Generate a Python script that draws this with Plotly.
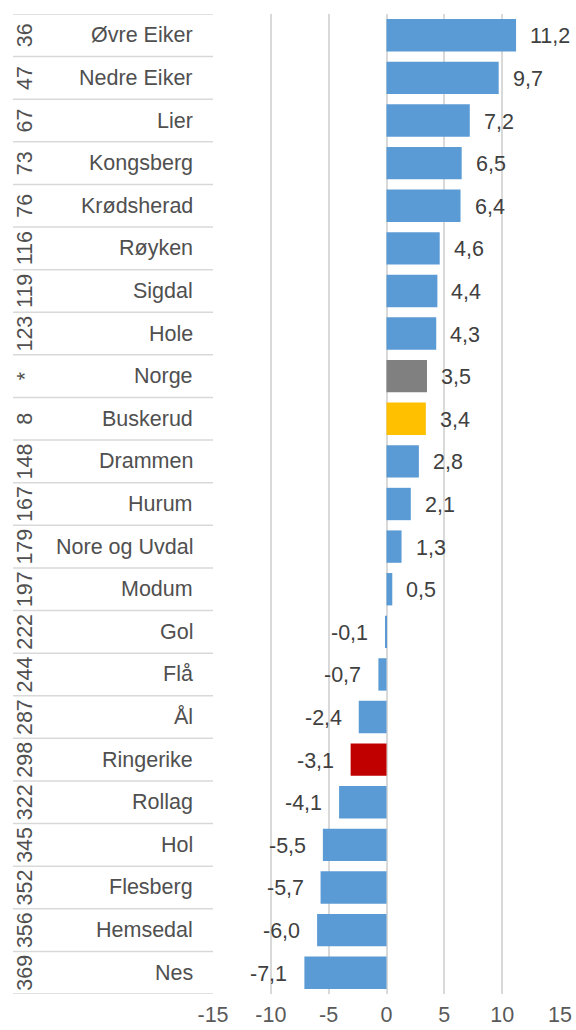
import plotly.graph_objects as go

names = ["Øvre Eiker", "Nedre Eiker", "Lier", "Kongsberg", "Krødsherad", "Røyken",
         "Sigdal", "Hole", "Norge", "Buskerud", "Drammen", "Hurum", "Nore og Uvdal",
         "Modum", "Gol", "Flå", "Ål", "Ringerike", "Rollag", "Hol", "Flesberg",
         "Hemsedal", "Nes"]
ranks = ["36", "47", "67", "73", "76", "116", "119", "123", "*", "8", "148", "167",
         "179", "197", "222", "244", "287", "298", "322", "345", "352", "356", "369"]
values = [11.2, 9.7, 7.2, 6.5, 6.4, 4.6, 4.4, 4.3, 3.5, 3.4, 2.8, 2.1, 1.3, 0.5,
          -0.1, -0.7, -2.4, -3.1, -4.1, -5.5, -5.7, -6.0, -7.1]
tick_vals = [-15, -10, -5, 0, 5, 10, 15]

BLUE = "#5B9BD5"
highlight = {"Norge": "#808080", "Buskerud": "#FFC000", "Ringerike": "#C00000"}
colors = [highlight.get(n, BLUE) for n in names]

FONT = "Liberation Sans, Arial, sans-serif"
FS = 21.5
TXT = "#404040"
NAMECOL = "#505050"
GRID = "#D9D9D9"

fig = go.Figure(go.Bar(
    x=values, y=names, orientation="h",
    marker=dict(color=colors, line=dict(width=0)),
    hoverinfo="skip",
))

annotations = []
for n, v in zip(names, values):
    lab = f"{v:.1f}".replace(".", ",")
    annotations.append(dict(
        x=v, y=n, xref="x", yref="y", text=lab, showarrow=False,
        xanchor="left" if v >= 0 else "right",
        xshift=12 if v >= 0 else -15, yshift=-1,
        font=dict(family=FONT, size=FS, color=TXT)))
    annotations.append(dict(
        x=0, y=n, xref="paper", yref="y", text=n, showarrow=False,
        xanchor="right", xshift=-18,
        font=dict(family=FONT, size=FS, color=NAMECOL)))
for n, r in zip(names, ranks):
    annotations.append(dict(
        x=0, y=n, xref="paper", yref="y", text=r, showarrow=False,
        xanchor="center", xshift=-188, textangle=-90,
        font=dict(family=FONT, size=FS, color=NAMECOL)))

shapes = []
for i in range(len(names) + 1):
    shapes.append(dict(
        type="line", xref="paper", yref="y", xsizemode="pixel", xanchor=0,
        x0=-200, x1=0, y0=i - 0.5, y1=i - 0.5,
        line=dict(color=GRID, width=1.5)))

fig.update_layout(
    width=576, height=1030,
    margin=dict(l=213, r=16, t=14, b=36, autoexpand=False),
    paper_bgcolor="white", plot_bgcolor="white",
    showlegend=False, bargap=0.24,
    annotations=annotations, shapes=shapes,
    font=dict(family=FONT, size=FS, color=TXT),
    xaxis=dict(range=[-15, 15], tickvals=tick_vals,
               ticktext=[str(t) for t in tick_vals],
               showgrid=True, gridcolor=GRID, gridwidth=1.5,
               zeroline=False, showline=False, ticks="",
               tickfont=dict(family=FONT, size=FS, color="#595959"),
               ticklabelstandoff=5, automargin=False,
               ticklabeloverflow="allow"),
    yaxis=dict(autorange=False, range=[len(names) - 0.5, -0.5],
               showticklabels=False, showgrid=False, zeroline=False,
               showline=False, ticks="", automargin=False),
)

fig.write_html(
    "out.html",
    config={"displayModeBar": False, "responsive": False},
    post_script="document.body.style.margin='0';document.body.style.overflow='hidden';",
)
